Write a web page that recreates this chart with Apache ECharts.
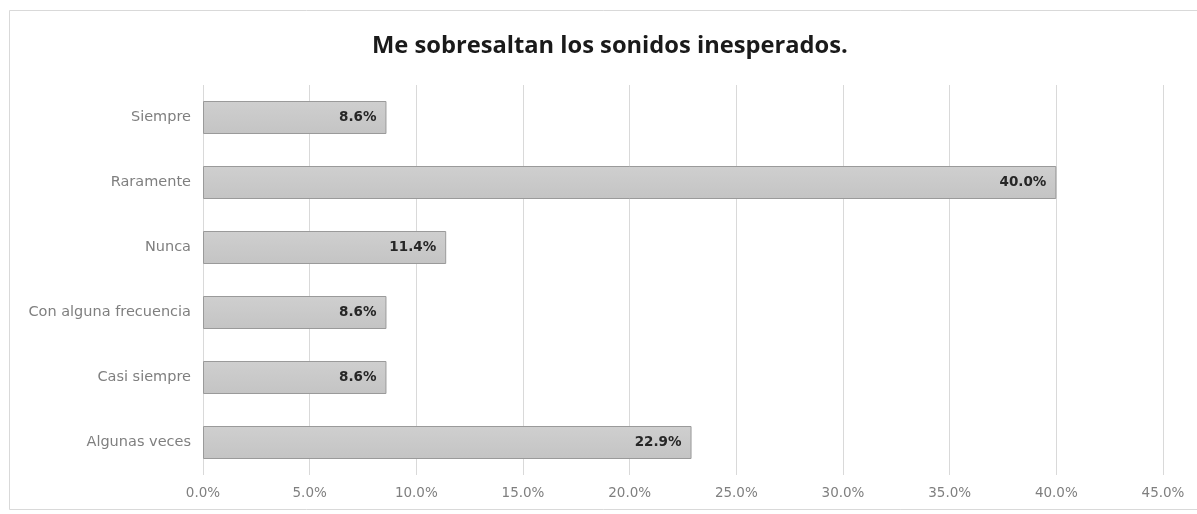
<!DOCTYPE html>
<html>
<head>
<meta charset="utf-8">
<style>
  html, body { margin: 0; padding: 0; background: #ffffff; }
  #chart { width: 1197px; height: 514px; }
</style>
<script src="https://cdn.jsdelivr.net/npm/echarts@6/dist/echarts.min.js"></script>
</head>
<body>
<div id="chart"></div>
<script>
// Categories listed bottom to top (category axis starts at the bottom)
const categories = ['Algunas veces', 'Casi siempre', 'Con alguna frecuencia', 'Nunca', 'Raramente', 'Siempre'];
const values = [22.9, 8.6, 8.6, 11.4, 40.0, 8.6];
const titleText = 'Me sobresaltan los sonidos inesperados.';

const chart = echarts.init(document.getElementById('chart'), null, { renderer: 'canvas' });

chart.setOption({
  backgroundColor: '#ffffff',
  animation: false,
  title: {
    text: titleText,
    left: 367,
    top: 29,
    textStyle: {
      fontFamily: 'Open Sans',
      fontSize: 23.7,
      fontWeight: 'bold',
      color: '#1a1a1a'
    }
  },
  graphic: [{
    type: 'rect',
    shape: { x: 9.5, y: 10.5, width: 1200, height: 499 },
    style: { fill: 'none', stroke: '#d9d9d9', lineWidth: 1 },
    silent: true
  }],
  grid: { left: 203, right: 34, top: 85, bottom: 39 },
  xAxis: {
    type: 'value',
    min: 0,
    max: 45,
    interval: 5,
    axisLine: { show: false },
    axisTick: { show: false },
    splitLine: { show: true, lineStyle: { color: '#d9d9d9', width: 1 } },
    axisLabel: {
      formatter: v => v.toFixed(1) + '%',
      color: '#7f7f7f',
      fontFamily: 'DejaVu Sans',
      fontSize: 13.5,
      margin: 11
    }
  },
  yAxis: {
    type: 'category',
    data: categories,
    axisLine: { show: false },
    axisTick: { show: false },
    axisLabel: {
      color: '#7f7f7f',
      fontFamily: 'DejaVu Sans',
      fontSize: 14.5,
      margin: 12
    }
  },
  series: [{
    type: 'bar',
    data: values,
    barWidth: 33,
    itemStyle: {
      color: new echarts.graphic.LinearGradient(0, 0, 0, 1, [
        { offset: 0, color: '#cfcfcf' },
        { offset: 1, color: '#c4c4c4' }
      ]),
      borderColor: '#9a9a9a',
      borderWidth: 1
    },
    label: {
      show: true,
      position: 'insideRight',
      distance: 10,
      formatter: p => p.value.toFixed(1) + '%',
      color: '#262626',
      fontFamily: 'DejaVu Sans',
      fontSize: 13.5,
      fontWeight: 'bold'
    }
  }]
});
</script>
</body>
</html>
